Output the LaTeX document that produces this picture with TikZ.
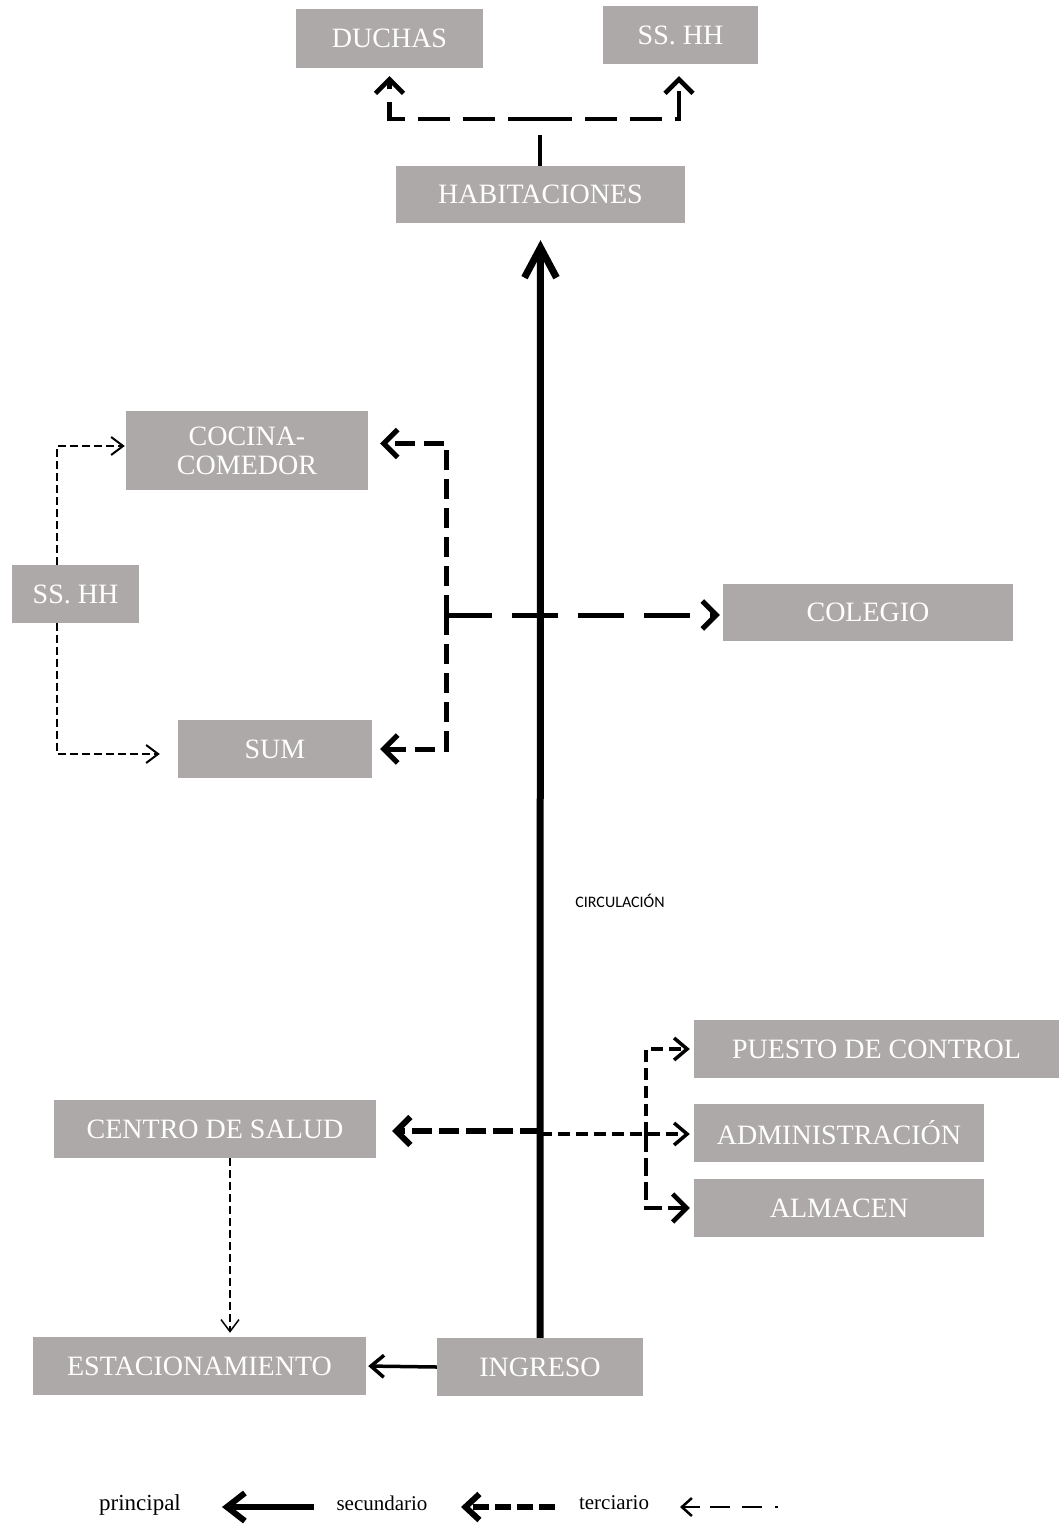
\documentclass[tikz,border=0pt]{standalone}
\usepackage{fontspec}
\setmainfont{Liberation Serif}
\newfontfamily\carl{Carlito}
\usetikzlibrary{arrows.meta}
\definecolor{boxgray}{HTML}{ADA9A8}
\tikzset{
  bigbarb/.tip={Straight Barb[length=30pt,width=32pt]},
  midbarb/.tip={Straight Barb[length=14pt,width=28pt]},
  smallbarb/.tip={Straight Barb[length=13pt,width=22pt]},
  thinbarb/.tip={Straight Barb[length=12pt,width=18pt]},
}
\begin{document}
\begin{tikzpicture}[x=1pt,y=-1pt,
  box/.style={fill=boxgray, text=white, font=\fontsize{28}{30}\selectfont, inner sep=0pt, align=center},
  princ/.style={line width=7pt, -bigbarb},
  secA/.style={line width=4.5pt, dash pattern=on 32pt off 13pt, -midbarb},
  secB/.style={line width=5pt, dash pattern=on 20pt off 9pt, -midbarb},
  secC/.style={line width=5pt, dash pattern=on 46pt off 20pt, -midbarb},
  secD/.style={line width=6pt, dash pattern=on 20pt off 7pt, -midbarb},
  terA/.style={line width=3.5pt, dash pattern=on 12pt off 6pt, -smallbarb},
  terB/.style={line width=2pt, dash pattern=on 8pt off 4pt, -thinbarb},
  solidthin/.style={line width=3.5pt, -smallbarb},
]
\useasboundingbox (0,0) rectangle (1059,1525);

% boxes
\node[box, minimum width=187pt, minimum height=59pt] (duchas) at (389.5,38.5) {DUCHAS};
\node[box, minimum width=155pt, minimum height=58pt] (sshhA) at (680.5,35) {SS. HH};
\node[box, minimum width=289pt, minimum height=57pt] (hab) at (540.5,194.5) {HABITACIONES};
\node[box, minimum width=242pt, minimum height=79pt] (cocina) at (247,450.5) {COCINA-\\[-1pt]COMEDOR};
\node[box, minimum width=127pt, minimum height=58pt] (sshhB) at (75.5,594) {SS. HH};
\node[box, minimum width=194pt, minimum height=58pt] (sum) at (275,749) {SUM};
\node[box, minimum width=290pt, minimum height=57pt] (colegio) at (868,612.5) {COLEGIO};
\node[box, minimum width=365pt, minimum height=58pt] (puesto) at (876.5,1049) {PUESTO DE CONTROL};
\node[box, minimum width=290pt, minimum height=58pt] (admin) at (839,1133) {ADMINISTRACIÓN};
\node[box, minimum width=290pt, minimum height=58pt] (almacen) at (839,1208) {ALMACEN};
\node[box, minimum width=322pt, minimum height=58pt] (centro) at (215,1129) {CENTRO DE SALUD};
\node[box, minimum width=333pt, minimum height=58pt] (estac) at (199.5,1366) {ESTACIONAMIENTO};
\node[box, minimum width=206pt, minimum height=58pt] (ingreso) at (540,1367) {INGRESO};

\node[font=\carl\fontsize{16}{18}\selectfont] (circ) at (620,901) {CIRCULACIÓN};

% main circulation
\draw[princ, shorten >=17pt] (ingreso.north) -- (hab.south);

% habitaciones -> duchas / ss.hh
\coordinate (jA) at (540,119);
\coordinate (jAs) at (540,135);
\draw[line width=4.5pt] (hab.north -| jAs) -- (jAs);
\draw[secA, shorten >=8pt] (jA) -| (duchas.south);
\draw[secA, shorten >=12pt] (jA) -| ([xshift=-1.5pt]sshhA.south);

% cocina / sum / colegio
\coordinate (jB) at (446,615);
\draw[secB, shorten >=12pt] (jB) |- ([yshift=7pt]cocina.east);
\draw[secB, shorten >=8pt] (jB) |- (sum.east);
\draw[secC, shorten >=3pt] (jB) -- (colegio.west |- jB);

% ss.hh -> cocina / sum
\coordinate (sTop) at (57,565);
\coordinate (sBot) at (57,623);
\draw[terB, shorten >=1pt] (sTop) |- ([yshift=4.5pt]cocina.west);
\draw[terB, shorten >=18pt] (sBot) |- ([yshift=-5pt]sum.west);

% centro de salud
\coordinate (jC) at (540,1131);
\draw[secD, shorten >=16pt] (jC) -- (centro.east |- jC);
\coordinate (cS) at (230,1158);
\draw[line width=1.5pt, dash pattern=on 8pt off 4pt, -thinbarb, shorten >=4pt] (cS) -- (cS |- estac.north);

% admin / puesto / almacen
\coordinate (jD) at (540,1134);
\coordinate (jE) at (646,1134);
\draw[terA, shorten >=4pt] (jD) -- (admin.west |- jD);
\draw[terA, shorten >=4pt] (jE) |- (puesto.west);
\draw[line width=4.5pt, dash pattern=on 18pt off 6pt, -midbarb, shorten >=4pt] (jE) |- (almacen.west);

% ingreso -> estacionamiento
\draw[solidthin, shorten >=2pt] (ingreso.west) -- (estac.east);

% legend
\node[font=\fontsize{23}{26}\selectfont] (lp) at (140,1505) {principal};
\node[font=\fontsize{21}{24}\selectfont] (ls) at (382,1503) {secundario};
\node[font=\fontsize{21}{24}\selectfont] (lt) at (614,1503) {terciario};
\coordinate (lpA) at (314,1507);
\coordinate (lpB) at (222,1507);
\coordinate (lsA) at (555,1507);
\coordinate (lsB) at (461,1507);
\coordinate (ltA) at (778,1507);
\coordinate (ltB) at (680,1507);
\draw[line width=6pt, -{Straight Barb[length=18pt,width=28pt]}] (lpA) -- (lpB);
\draw[line width=6pt, dash pattern=on 16pt off 6pt, -{Straight Barb[length=14pt,width=26pt]}] (lsA) -- (lsB);
\draw[line width=2.5pt, dash pattern=on 3pt off 13pt on 20pt off 12pt on 20pt off 10pt on 60pt, -{Straight Barb[length=10pt,width=18pt]}] (ltA) -- (ltB);
\end{tikzpicture}
\end{document}
